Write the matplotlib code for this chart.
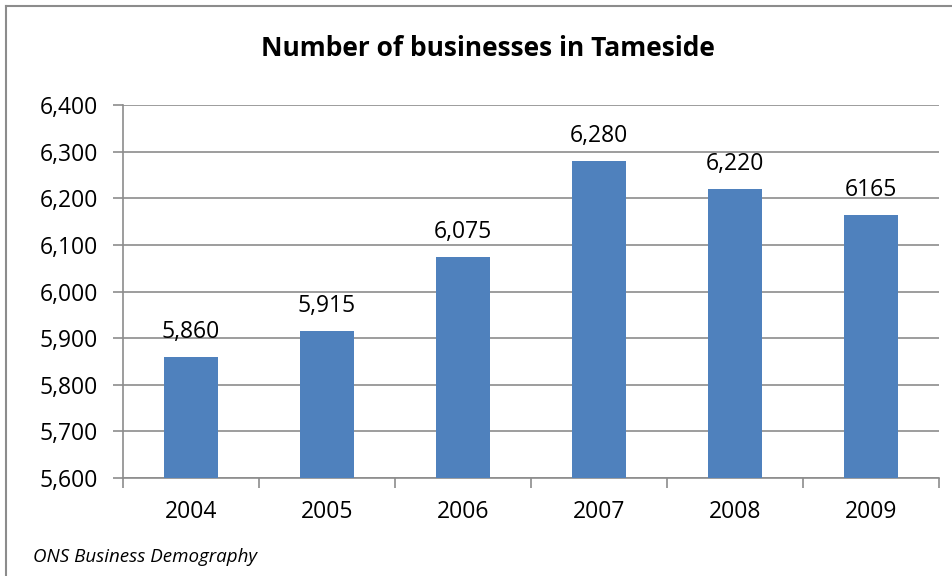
import matplotlib.pyplot as plt
from matplotlib.lines import Line2D
from matplotlib.ticker import FuncFormatter, MultipleLocator

years = ['2004', '2005', '2006', '2007', '2008', '2009']
businesses = [5860, 5915, 6075, 6280, 6220, 6165]
bar_labels = ['5,860', '5,915', '6,075', '6,280', '6,220', '6165']

plt.rcParams['font.family'] = ['Open Sans', 'DejaVu Sans']
grey = '#8c8c8c'

fig = plt.figure(figsize=(9.53, 5.76), dpi=100)
ax = fig.add_axes([123/953, 1 - 478/576, (939-123)/953, (478-105)/576])

x = range(len(years))
ax.bar(x, businesses, width=0.4, color='#4f81bd', zorder=3)
for i, v in enumerate(businesses):
    ax.annotate(bar_labels[i], (i, v), xytext=(0, 13.5), textcoords='offset points',
                ha='center', va='baseline', fontsize=16.5)

ax.set_ylim(5600, 6400)
ax.set_xlim(-0.5, len(years) - 0.5)
ax.yaxis.set_major_locator(MultipleLocator(100))
ax.yaxis.set_major_formatter(FuncFormatter(lambda v, p: f'{int(v):,}'))
ax.grid(axis='y', color=grey, lw=1.2, zorder=0)
ax.set_xticks(list(x))
ax.set_xticklabels(years, fontsize=16.5)
ax.set_xticks([i - 0.5 for i in range(len(years) + 1)], minor=True)
ax.tick_params(axis='x', which='major', length=0, pad=16)
ax.tick_params(axis='x', which='minor', length=7, color=grey, width=1.2)
ax.tick_params(axis='y', labelsize=16.5, length=7, color=grey, width=1.2, pad=11)
for s in ['top', 'right']:
    ax.spines[s].set_visible(False)
for s in ['left', 'bottom']:
    ax.spines[s].set_color(grey)
    ax.spines[s].set_linewidth(1.2)

fig.text(488/953, 1 - 48/576, 'Number of businesses in Tameside', ha='center', va='center',
         fontsize=19, fontweight='bold')
fig.text(33/953, 1 - 557/576, 'ONS Business Demography', ha='left', va='center',
         fontsize=13.5, style='italic')

# outer chart border (left and top edges visible)
fig.add_artist(Line2D([6/953, 6/953], [0, 1 - 6/576], color=grey, lw=1.5, transform=fig.transFigure))
fig.add_artist(Line2D([6/953, 1], [1 - 6/576, 1 - 6/576], color=grey, lw=1.5, transform=fig.transFigure))

fig.savefig('out.png', dpi=100)
